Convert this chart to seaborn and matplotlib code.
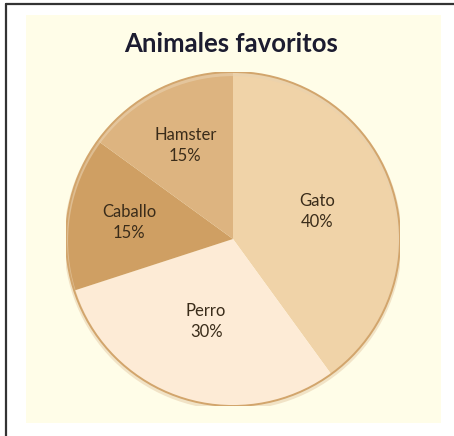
import numpy as np
import seaborn as sns
import matplotlib
matplotlib.use('Agg')
import matplotlib.pyplot as plt
from matplotlib.patches import Rectangle, Circle
from matplotlib.lines import Line2D

# data
animals = ['Gato', 'Perro', 'Caballo', 'Hamster']
shares = [40, 30, 15, 15]
slice_colors = ['#F0D3A8', '#FDEBD6', '#CF9F63', '#DDB480']

sns.set_theme(style='white')
plt.rcParams['font.family'] = ['Lato', 'DejaVu Sans']

fig = plt.figure(figsize=(4.54, 4.36), dpi=100)
fig.patch.set_facecolor('white')

# cream panel and the black frame (top + left only)
fig.patches.append(Rectangle((26 / 454, 1 - 423 / 436), 415 / 454, 408 / 436,
                             transform=fig.transFigure, facecolor='#FFFDE8',
                             edgecolor='none', zorder=-5))
fig.add_artist(Line2D([5.5 / 454, 1], [1 - 4.5 / 436, 1 - 4.5 / 436],
                      transform=fig.transFigure, color='#333333', lw=1.6))
fig.add_artist(Line2D([5.5 / 454, 5.5 / 454], [0, 1 - 4.5 / 436],
                      transform=fig.transFigure, color='#333333', lw=1.6))

ax = fig.add_axes([66 / 454, 30 / 436, 334 / 454, 334 / 436])
ax.set_facecolor('none')
ax.set_zorder(2)

palette = sns.color_palette(slice_colors)
wedges, _ = ax.pie(shares, colors=palette, startangle=90, counterclock=False,
                   radius=1, wedgeprops=dict(linewidth=0, antialiased=True))

# outer rim
ax.add_patch(Circle((0, -0.012), 1.0, fill=False, edgecolor='#E9D2B0', lw=3, alpha=0.6))
ax.add_patch(Circle((0, 0), 1.0, fill=False, edgecolor='#D2A56C', lw=1.4))

# labels inside slices
label_r = [0.53, 0.52, 0.63, 0.63]
for w, name, val, r in zip(wedges, animals, shares, label_r):
    ang = np.deg2rad((w.theta1 + w.theta2) / 2)
    ax.text(r * np.cos(ang), r * np.sin(ang), f'{name}\n{val}%',
            ha='center', va='center', fontsize=12, color='#3A2C1A',
            linespacing=1.4)

ax.set_xlim(-1, 1)
ax.set_ylim(-1, 1)
ax.set_aspect('equal')
ax.axis('off')

fig.text(231 / 454, 1 - 44 / 436, 'Animales favoritos', ha='center', va='center',
         fontsize=18.5, fontweight='bold', color='#1C1C30')

fig.savefig('out.png', dpi=100)
